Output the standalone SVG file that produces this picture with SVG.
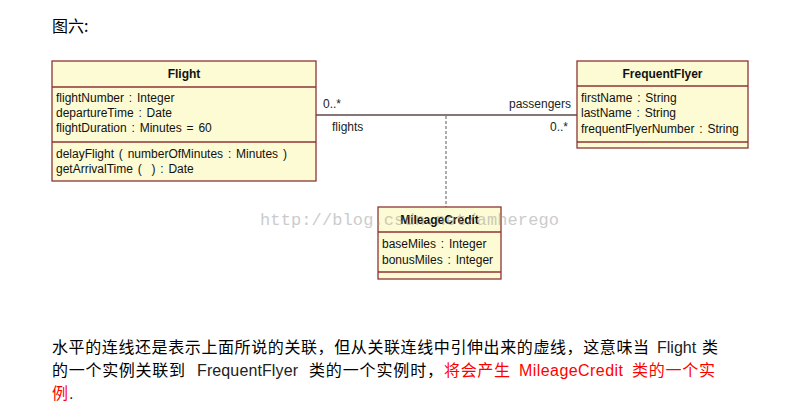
<svg xmlns="http://www.w3.org/2000/svg" width="802" height="417" viewBox="0 0 802 417">
<style>
.box{fill:#fdfbd4;stroke:#8e3434;stroke-width:1.3}
.div{stroke:#8e3434;stroke-width:1.3}
.ttl{font-family:"Liberation Sans",Arial,sans-serif;font-size:12px;font-weight:bold;fill:#111;text-anchor:middle}
.att{font-family:"Liberation Sans",Arial,sans-serif;font-size:12px;fill:#111;word-spacing:1.5px}
.lbl{font-family:"Liberation Sans",Arial,sans-serif;font-size:12px;fill:#222}
.cjk{font-family:"Noto Sans CJK SC","Liberation Sans",sans-serif;font-size:16px;fill:#000}
.lat{font-family:"Liberation Sans",Arial,"Noto Sans CJK SC",sans-serif;font-size:16px;fill:#222}
.red{fill:#ff0000}
.wm{font-family:"Liberation Mono","DejaVu Sans Mono",monospace;font-size:17px;fill:#999;opacity:0.5}
</style>
<rect width="802" height="417" fill="#fff"/>
<text class="cjk" x="52" y="32">图六:</text>

<g id="connectors">
<line x1="316" y1="115" x2="577" y2="115" stroke="#5e4848" stroke-width="1.3"/>
<line x1="446" y1="116" x2="446" y2="207" stroke="#808080" stroke-width="1.3" stroke-dasharray="3,2"/>
<text class="lbl" x="323" y="108">0..*</text>
<text class="lbl" x="571" y="108" text-anchor="end">passengers</text>
<text class="lbl" x="332" y="131">flights</text>
<text class="lbl" x="568" y="131" text-anchor="end">0..*</text>
</g>

<g id="Flight">
<rect class="box" x="52" y="61" width="264" height="120"/>
<line class="div" x1="52" y1="87" x2="316" y2="87"/>
<line class="div" x1="52" y1="142" x2="316" y2="142"/>
<text class="ttl" x="184" y="78">Flight</text>
<text class="att" x="56" y="102">flightNumber : Integer</text>
<text class="att" x="56" y="117">departureTime : Date</text>
<text class="att" x="56" y="132">flightDuration : Minutes = 60</text>
<text class="att" x="56" y="158">delayFlight ( numberOfMinutes : Minutes )</text>
<text class="att" x="56" y="173" xml:space="preserve">getArrivalTime (  ) : Date</text>
</g>

<g id="FrequentFlyer">
<rect class="box" x="577" y="61" width="171" height="87"/>
<line class="div" x1="577" y1="86" x2="748" y2="86"/>
<line class="div" x1="577" y1="142" x2="748" y2="142"/>
<text class="ttl" x="662.5" y="78">FrequentFlyer</text>
<text class="att" x="581" y="102">firstName : String</text>
<text class="att" x="581" y="117">lastName : String</text>
<text class="att" x="581" y="133">frequentFlyerNumber : String</text>
</g>

<g id="MileageCredit">
<rect class="box" x="378" y="207" width="123" height="72"/>
<line class="div" x1="378" y1="232" x2="501" y2="232"/>
<line class="div" x1="378" y1="272" x2="501" y2="272"/>
<text class="ttl" x="439.5" y="224">MileageCredit</text>
<text class="att" x="382" y="248">baseMiles : Integer</text>
<text class="att" x="382" y="264">bonusMiles : Integer</text>
</g>

<text class="wm" x="260" y="225" textLength="299" lengthAdjust="spacing">http://blog.csdn.net/amherego</text>

<g id="caption">
<text class="cjk" x="52" y="353" textLength="597" lengthAdjust="spacing">水平的连线还是表示上面所说的关联，但从关联连线中引伸出来的虚线，这意味当</text>
<text class="lat" x="657" y="353">Flight</text>
<text class="cjk" x="702" y="353">类</text>

<text class="cjk" x="52" y="376" textLength="133" lengthAdjust="spacing">的一个实例关联到</text>
<text class="lat" x="197" y="376" textLength="101" lengthAdjust="spacing">FrequentFlyer</text>
<text class="cjk" x="309" y="376" textLength="134" lengthAdjust="spacing">类的一个实例时，</text>
<text class="cjk red" x="444" y="376" textLength="66" lengthAdjust="spacing">将会产生</text>
<text class="lat red" x="519" y="376" textLength="104" lengthAdjust="spacing">MileageCredit</text>
<text class="cjk red" x="632" y="376" textLength="83" lengthAdjust="spacing">类的一个实</text>

<text class="cjk red" x="52" y="399">例</text>
<text class="lat" x="69" y="399">.</text>
</g>
</svg>
